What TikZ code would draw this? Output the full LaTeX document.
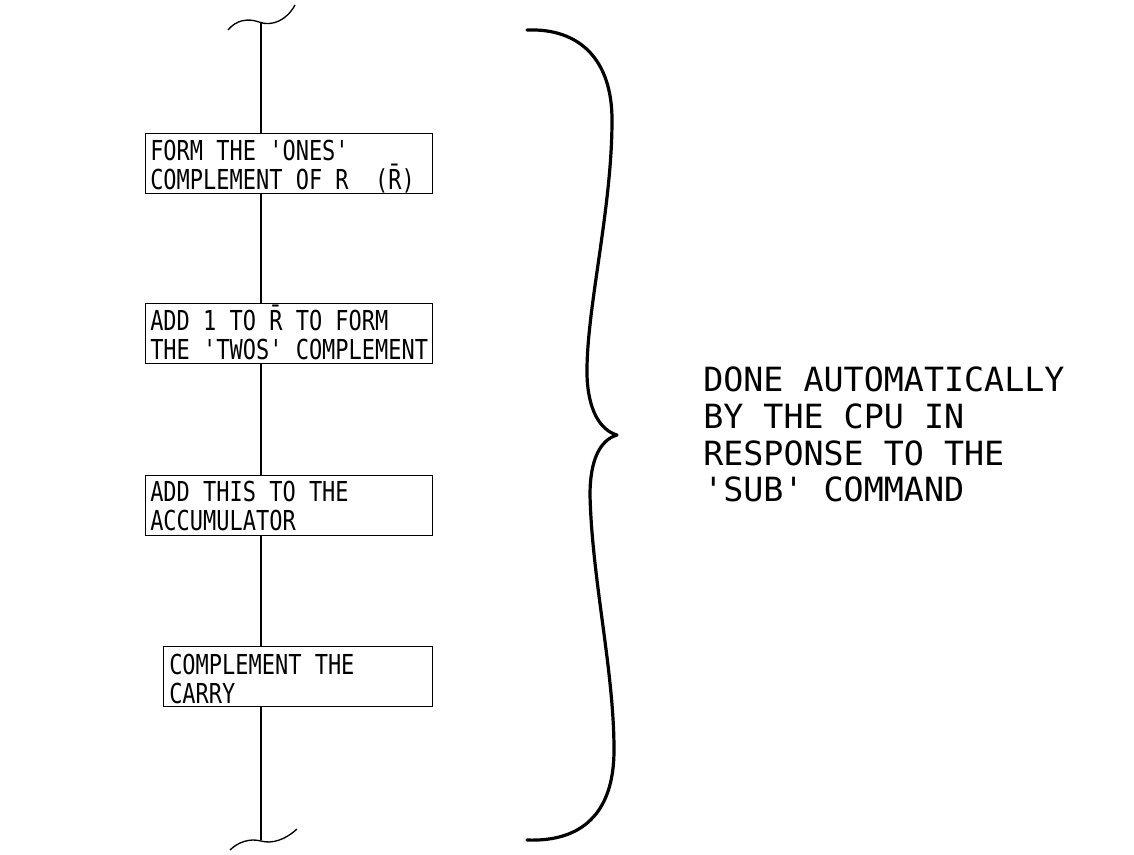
\documentclass[tikz,border=0pt]{standalone}
\usepackage{fontspec}
\newfontfamily\boxfont[FakeStretch=0.8]{DejaVu Sans Mono}
\newfontfamily\sidefont[FakeStretch=1.0]{DejaVu Sans Mono}
\begin{document}
\begin{tikzpicture}[x=0.75pt,y=-0.75pt,
  stepbox/.style={draw,line width=1pt,inner sep=0pt,anchor=north west,minimum height=60*0.75pt},
  boxtext/.style={anchor=south west,inner sep=0pt,text depth=0pt,align=left,
     font=\boxfont\fontsize{20.6}{21.6}\selectfont},
  sidetext/.style={anchor=south west,inner sep=0pt,text depth=0pt,align=left,
     font=\sidefont\fontsize{25}{27.5}\selectfont},
  flow/.style={line width=1.1pt},
  squig/.style={line width=1pt},
  bracestyle/.style={line width=2.4pt,line cap=round,line join=round}]
\useasboundingbox (0,0) rectangle (1134,854);
% boxes
\node[stepbox,minimum width=287*0.75pt] (b1) at (145,133) {};
\node[stepbox,minimum width=287*0.75pt] (b2) at (145,303) {};
\node[stepbox,minimum width=287*0.75pt] (b3) at (145,475) {};
\node[stepbox,minimum width=269*0.75pt] (b4) at (163,646) {};
% texts
\node[boxtext] (t1) at (150,190) {FORM THE 'ONES'\\COMPLEMENT OF R\ \ (R̄)};
\node[boxtext] (t2) at (150,360) {ADD 1 TO R̄ TO FORM\\THE 'TWOS' COMPLEMENT};
\node[boxtext] (t3) at (150,531) {ADD THIS TO THE\\ACCUMULATOR};
\node[boxtext] (t4) at (169,704) {COMPLEMENT THE\\CARRY};
% flow line
\coordinate (top) at (261,22);
\coordinate (bot) at (261,840);
\draw[flow] (top) -- (top |- b1.north);
\draw[flow] (top |- b1.south) -- (top |- b2.north);
\draw[flow] (top |- b2.south) -- (top |- b3.north);
\draw[flow] (top |- b3.south) -- (top |- b4.north);
\draw[flow] (bot |- b4.south) -- (bot);
% squiggles
\draw[squig] (228,30) .. controls (236,20) and (248,18) .. (259,22) .. controls (272,27) and (287,20) .. (295,5);
\draw[squig] (230,850) .. controls (238,842) and (250,838) .. (261,841) .. controls (272,844) and (285,840) .. (297,829);
% brace
\draw[bracestyle] (527,30) .. controls (580,28) and (612,60) .. (612,120)
  .. controls (612,210) and (586,310) .. (587,375)
  .. controls (588,410) and (600,430) .. (617,435)
  .. controls (600,440) and (590,460) .. (590,495)
  .. controls (592,580) and (614,670) .. (614,750)
  .. controls (614,815) and (580,842) .. (527,840);
% side text
\node[sidetext] (s1) at (703,502) {DONE AUTOMATICALLY\\BY THE CPU IN\\RESPONSE TO THE\\'SUB' COMMAND};
\end{tikzpicture}
\end{document}
